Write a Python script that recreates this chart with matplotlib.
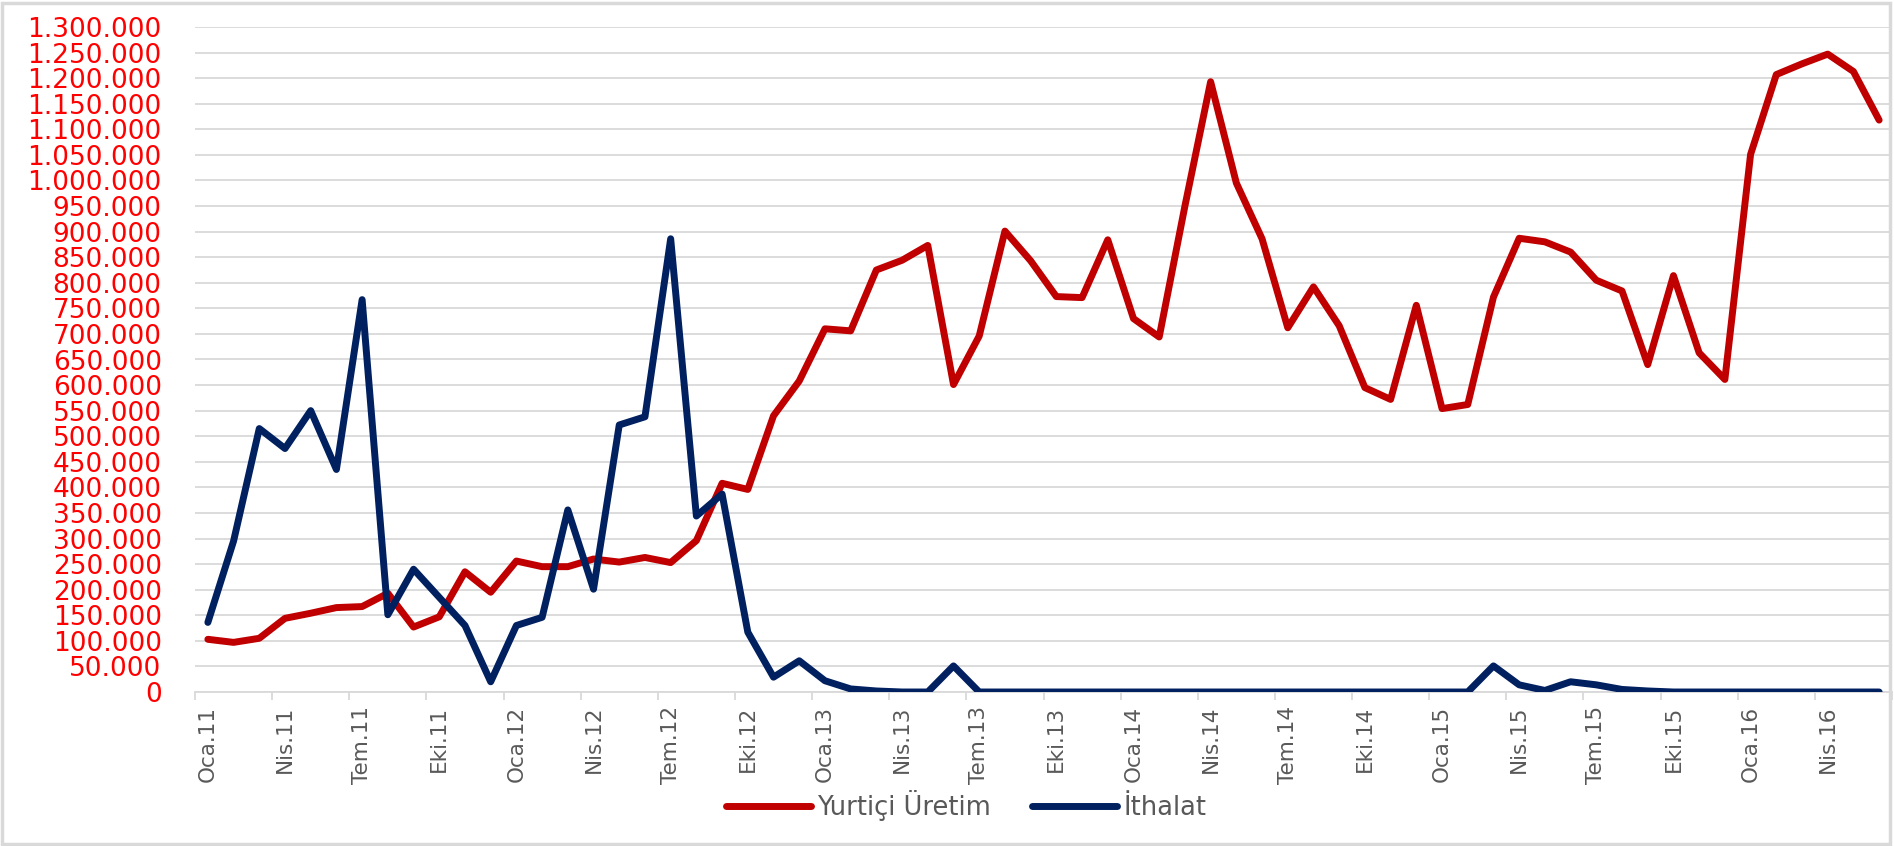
import numpy as np
import matplotlib
matplotlib.use("Agg")
import matplotlib.pyplot as plt
from matplotlib.ticker import FuncFormatter, FixedLocator
from matplotlib.patches import Rectangle

months = ['Oca', 'Şub', 'Mar', 'Nis', 'May', 'Haz', 'Tem', 'Ağu', 'Eyl', 'Eki', 'Kas', 'Ara']
years = ['11', '12', '13', '14', '15', '16']
categories = [m + '.' + y for y in years for m in months][:66]

yurtici_uretim = [
    103000, 97000, 105000, 144000, 154000, 165000, 167000, 193000, 127000, 147000, 235000, 195000,
    256000, 245000, 245000, 260000, 254000, 263000, 253000, 296000, 408000, 396000, 540000, 608000,
    710000, 706000, 825000, 844000, 873000, 601000, 696000, 901000, 843000, 773000, 771000, 884000,
    730000, 694000, 950000, 1193000, 995000, 886000, 712000, 792000, 716000, 595000, 572000, 756000,
    554000, 562000, 772000, 887000, 880000, 860000, 805000, 784000, 640000, 814000, 663000, 611000,
    1051000, 1207000, 1228000, 1247000, 1213000, 1118000,
]
ithalat = [
    136000, 295000, 515000, 476000, 550000, 435000, 767000, 151000, 240000, 185000, 130000, 20000,
    130000, 146000, 356000, 201000, 522000, 538000, 886000, 344000, 387000, 117000, 29000, 61000,
    22000, 6000, 2000, 0, 0, 51000, 0, 0, 0, 0, 0, 0,
    0, 0, 0, 0, 0, 0, 0, 0, 0, 0, 0, 0,
    0, 0, 51000, 14000, 3000, 20000, 14000, 5000, 2000, 0, 0, 0,
    0, 0, 0, 0, 0, 0,
]

red = '#C00000'
navy = '#002060'
grid_gray = '#D9D9D9'
text_gray = '#595959'

fig = plt.figure(figsize=(18.94, 8.46), dpi=100)
ax = fig.add_axes([195 / 1894, 154 / 846, 1697 / 1894, 665 / 846])

x = np.arange(len(categories))
ax.plot(x, yurtici_uretim, color=red, lw=5, solid_joinstyle='round', solid_capstyle='round',
        label='Yurtiçi Üretim', zorder=3)
ax.plot(x, ithalat, color=navy, lw=5, solid_joinstyle='round', solid_capstyle='round',
        label='İthalat', zorder=3)

ax.set_xlim(-0.5, len(categories) - 0.5)
ax.set_ylim(0, 1300000)
ax.set_yticks(np.arange(0, 1300001, 50000))
ax.yaxis.set_major_formatter(FuncFormatter(lambda v, p: f"{int(v):,}".replace(',', '.')))
ax.grid(axis='y', color=grid_gray, lw=1.3, zorder=0)
ax.tick_params(axis='y', length=0, pad=24, labelsize=19, labelcolor='#FF0000')

label_pos = x[::3]
ax.xaxis.set_major_locator(FixedLocator(label_pos))
ax.set_xticklabels([categories[i] for i in label_pos], rotation=90)
ax.xaxis.set_minor_locator(FixedLocator(np.arange(-0.5, len(categories), 3)))
ax.tick_params(axis='x', which='major', length=0, pad=10, labelsize=15.5, labelcolor=text_gray)
ax.tick_params(axis='x', which='minor', length=6, width=1.3, color=grid_gray)

for side in ['left', 'right', 'top']:
    ax.spines[side].set_visible(False)
ax.spines['bottom'].set_color(grid_gray)
ax.spines['bottom'].set_linewidth(1.3)

leg = fig.legend(loc='center', bbox_to_anchor=(0.51, 0.048), ncol=2, frameon=False,
                 fontsize=18.5, handlelength=3.3, handletextpad=0.25, columnspacing=1.6)
for t in leg.get_texts():
    t.set_color(text_gray)

fig.patches.append(Rectangle((0.001, 0.002), 0.997, 0.995, transform=fig.transFigure,
                             fill=False, edgecolor=grid_gray, lw=2.5))

fig.savefig('out.png', dpi=100)
